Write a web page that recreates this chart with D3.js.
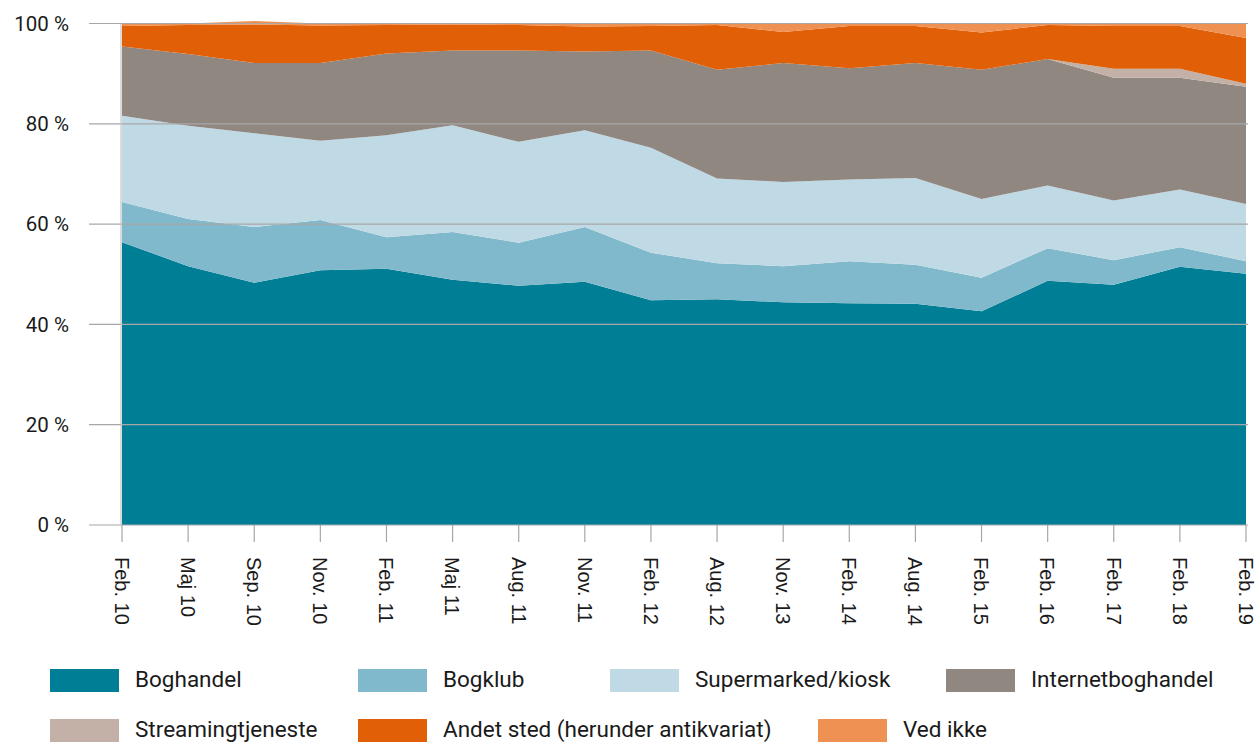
<!DOCTYPE html>
<html>
<head>
<meta charset="utf-8">
<script src="https://cdn.jsdelivr.net/npm/d3@7"></script>
<style>
  body { margin: 0; background: #fff; }
  svg { display: block; }
</style>
</head>
<body>
<div id="chart"></div>
<script>
// periods on the x axis
var categories = ["Feb. 10", "Maj 10", "Sep. 10", "Nov. 10", "Feb. 11", "Maj 11", "Aug. 11", "Nov. 11", "Feb. 12",
                  "Aug. 12", "Nov. 13", "Feb. 14", "Aug. 14", "Feb. 15", "Feb. 16", "Feb. 17", "Feb. 18", "Feb. 19"];

// shares in percent
var boghandel    = [56.4, 51.6, 48.3, 50.8, 51.1, 48.9, 47.7, 48.5, 44.8, 45.0, 44.4, 44.2, 44.1, 42.6, 48.7, 47.9, 51.5, 50.1];
var bogklub      = [8.0, 9.4, 11.1, 10.0, 6.3, 9.5, 8.6, 10.9, 9.5, 7.2, 7.2, 8.4, 7.8, 6.7, 6.5, 4.9, 3.9, 2.5];
var supermarked  = [17.2, 18.6, 18.7, 15.8, 20.3, 21.3, 20.1, 19.3, 20.9, 16.9, 16.8, 16.3, 17.3, 15.7, 12.5, 11.9, 11.5, 11.4];
var internet     = [13.8, 14.3, 14.0, 15.5, 16.3, 14.9, 18.2, 15.7, 19.4, 21.7, 23.7, 22.2, 22.9, 25.8, 25.2, 24.5, 22.3, 23.4];
var streaming    = [0, 0, 0, 0, 0, 0, 0, 0, 0, 0, 0, 0, 0, 0, 0, 1.8, 1.8, 0.6];
var andet        = [4.1, 5.8, 7.7, 7.5, 5.7, 5.2, 5.1, 5.0, 4.9, 8.9, 6.2, 8.4, 7.4, 7.4, 6.8, 8.5, 8.5, 9.1];
var vedIkke      = [0.5, 0.3, 0.7, 0.4, 0.3, 0.2, 0.3, 0.6, 0.5, 0.3, 1.7, 0.5, 0.5, 1.8, 0.3, 0.5, 0.5, 2.9];

var yTicks = [0, 20, 40, 60, 80, 100];

var seriesNames  = ["Boghandel", "Bogklub", "Supermarked/kiosk", "Internetboghandel", "Streamingtjeneste", "Andet sted (herunder antikvariat)", "Ved ikke"];
var seriesValues = [boghandel, bogklub, supermarked, internet, streaming, andet, vedIkke];
var colors       = ["#007e96", "#80b9cb", "#c0dae5", "#918781", "#c3b1a8", "#e05f07", "#ef9152"];

var width = 1258, height = 742;

var svg = d3.select("#chart").append("svg").attr("width", width).attr("height", height);

// rows for d3.stack
var table = categories.map(function(c, i) {
    var row = { cat: c };
    seriesNames.forEach(function(n, k) { row[n] = seriesValues[k][i]; });
    return row;
});

var x = d3.scalePoint().domain(categories).range([122, 1246]);
var y = d3.scaleLinear().domain([0, 100]).range([525, 23.5]);

var stacked = d3.stack().keys(seriesNames)(table);

var area = d3.area()
    .x(function(d) { return x(d.data.cat); })
    .y0(function(d) { return y(d[0]); })
    .y1(function(d) { return y(d[1]); });

svg.append("g").selectAll("path").data(stacked)
    .enter().append("path")
    .attr("fill", function(d, i) { return colors[i]; })
    .attr("d", area);

// horizontal grid on top of the areas
var grid = svg.append("g");
grid.selectAll("line").data(yTicks)
    .enter().append("line")
    .attr("x1", 89).attr("x2", 1248)
    .attr("y1", function(d) { return y(d); })
    .attr("y2", function(d) { return y(d); })
    .attr("stroke", "#a7a7a7")
    .attr("stroke-width", 1.2);

grid.selectAll("text").data(yTicks)
    .enter().append("text")
    .attr("x", 69)
    .attr("y", function(d) { return y(d); })
    .attr("dy", "0.36em")
    .attr("text-anchor", "end")
    .attr("font-family", "Roboto, sans-serif")
    .attr("font-size", 20.5)
    .attr("fill", "#1a1a1a")
    .text(function(d) { return d + " %"; });

// left axis line
svg.append("line")
    .attr("x1", 121).attr("x2", 121)
    .attr("y1", y(100)).attr("y2", y(0))
    .attr("stroke", "#c4c4c4").attr("stroke-width", 1.2);

// x axis ticks and rotated labels
var xg = svg.append("g");
xg.selectAll("line").data(categories)
    .enter().append("line")
    .attr("x1", function(d) { return x(d); })
    .attr("x2", function(d) { return x(d); })
    .attr("y1", 525).attr("y2", 542)
    .attr("stroke", "#a7a7a7").attr("stroke-width", 1.2);

xg.selectAll("text").data(categories)
    .enter().append("text")
    .attr("transform", function(d) { return "translate(" + x(d) + ",557) rotate(90)"; })
    .attr("dy", "0.36em")
    .attr("text-anchor", "start")
    .attr("font-family", "'Liberation Sans', Arial, sans-serif")
    .attr("font-size", 20)
    .attr("fill", "#1a1a1a")
    .text(function(d) { return d; });

// legend
var legendPos = [[50, 669], [358, 669], [610, 669], [946, 669], [50, 719], [358, 719], [818, 719]];

var legend = svg.append("g").selectAll("g").data(seriesNames)
    .enter().append("g")
    .attr("transform", function(d, i) { return "translate(" + legendPos[i][0] + "," + legendPos[i][1] + ")"; });

legend.append("rect")
    .attr("width", 69).attr("height", 23)
    .attr("fill", function(d, i) { return colors[i]; });

legend.append("text")
    .attr("x", 85).attr("y", 18)
    .attr("font-family", "Roboto, sans-serif")
    .attr("font-size", 22.5)
    .attr("fill", "#1a1a1a")
    .text(function(d) { return d; });
</script>
</body>
</html>
